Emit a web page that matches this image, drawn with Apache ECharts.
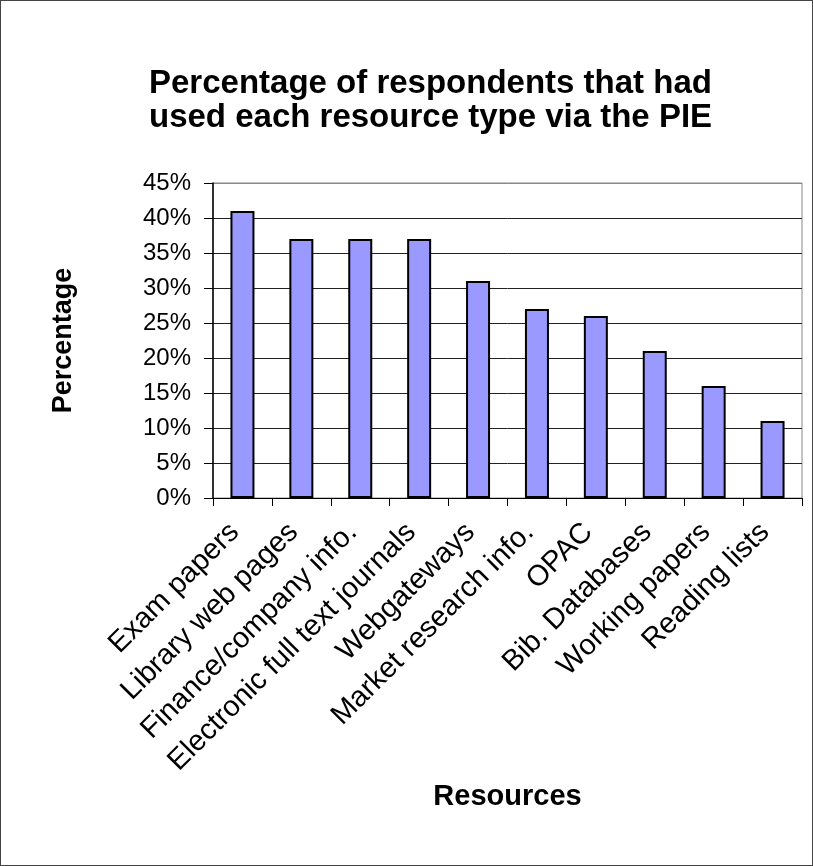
<!DOCTYPE html>
<html>
<head>
<meta charset="utf-8">
<script src="https://cdn.jsdelivr.net/npm/echarts@6/dist/echarts.min.js"></script>
<style>
  html, body { margin: 0; padding: 0; background: #fff; }
  #main { width: 813px; height: 866px; box-sizing: border-box; border: 1px solid #444; }
</style>
</head>
<body>
<div id="main"></div>
<script>
// chart data
var categories = ['Exam papers', 'Library web pages', 'Finance/company info.',
    'Electronic full text journals', 'Webgateways', 'Market research info.',
    'OPAC', 'Bib. Databases', 'Working papers', 'Reading lists'];
var percentages = [41, 37, 37, 37, 31, 27, 26, 21, 16, 11];
var titleLines = ['Percentage of respondents that had', 'used each resource type via the PIE'];

var font = 'Liberation Sans, Arial, sans-serif';
var myChart = echarts.init(document.getElementById('main'));

var option = {
    animation: false,
    graphic: [{
        type: 'text',
        left: 148,
        top: 66,
        style: {
            text: titleLines.join('\n'),
            font: 'bold 33px ' + font,
            lineHeight: 34,
            fill: '#000'
        }
    }],
    grid: {
        left: 212,
        top: 182,
        right: 10,
        bottom: 367,
        show: true,
        borderColor: '#888',
        borderWidth: 1
    },
    xAxis: {
        type: 'category',
        data: categories,
        name: 'Resources',
        nameLocation: 'middle',
        nameGap: 284,
        nameTextStyle: { fontFamily: font, fontWeight: 'bold', fontSize: 29, color: '#000' },
        axisLine: { lineStyle: { color: '#000', width: 1 } },
        axisTick: { show: true, length: 8, lineStyle: { color: '#000' } },
        axisLabel: {
            rotate: 45,
            interval: 0,
            margin: 22,
            padding: [0, 11, 0, 0],
            fontFamily: font,
            fontSize: 29,
            color: '#000'
        }
    },
    yAxis: {
        type: 'value',
        min: 0,
        max: 45,
        interval: 5,
        name: 'Percentage',
        nameLocation: 'middle',
        nameGap: 136,
        nameTextStyle: { fontFamily: font, fontWeight: 'bold', fontSize: 27, color: '#000' },
        axisLine: { show: true, lineStyle: { color: '#000', width: 1.5 } },
        axisTick: { show: true, length: 9, lineStyle: { color: '#000' } },
        axisLabel: {
            formatter: '{value}%',
            margin: 22,
            fontFamily: font,
            fontSize: 24,
            color: '#000'
        },
        splitLine: {
            show: true,
            lineStyle: {
                color: ['#000', '#222', '#222', '#222', '#222', '#222', '#222', '#222', '#222', '#888'],
                width: 1
            }
        }
    },
    series: [{
        type: 'bar',
        data: percentages,
        barWidth: 24,
        itemStyle: {
            color: '#9999FF',
            borderColor: '#000',
            borderWidth: 2
        }
    }]
};

myChart.setOption(option);
</script>
</body>
</html>
